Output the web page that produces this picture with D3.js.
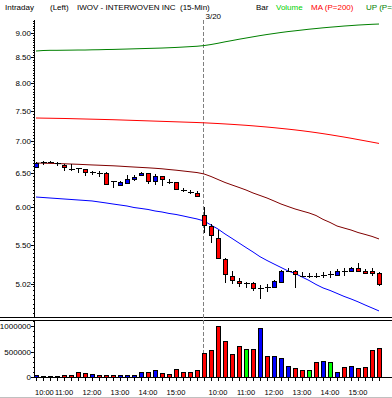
<!DOCTYPE html>
<html><head><meta charset="utf-8">
<script src="https://cdn.jsdelivr.net/npm/d3@7"></script>
<style>
html,body{margin:0;padding:0;background:#fff;overflow:hidden;}
svg{display:block;font-family:"Liberation Sans",Arial,sans-serif;}
</style></head><body>
<svg id="c" width="392" height="398"></svg>
<script>
// ---------- data ----------
const times = ["10:00","10:15","10:30","10:45","11:00","11:15","11:30","11:45","12:00","12:15","12:30","12:45",
  "13:00","13:15","13:30","13:45","14:00","14:15","14:30","14:45","15:00","15:15","15:30","15:45",
  "09:30","09:45","10:00","10:15","10:30","10:45","11:00","11:15","11:30","11:45","12:00","12:15","12:30","12:45",
  "13:00","13:15","13:30","13:45","14:00","14:15","14:30","14:45","15:00","15:15","15:30","15:45"];
const open  = [6.59,6.66,6.67,6.65,6.62,6.565,6.58,6.565,6.51,6.503,6.503,6.384,6.325,6.354,6.409,6.465,6.494,6.375,6.454,6.365,6.36,6.248,6.224,6.20,
  5.896,5.747,5.586,5.32,5.118,5.06,5.04,5.032,4.982,4.987,4.987,5.05,5.18,5.182,5.122,5.122,5.122,5.126,5.138,5.13,5.178,5.178,5.218,5.178,5.178,5.15];
const high  = [6.66,6.687,6.68,6.67,6.636,6.636,6.58,6.565,6.534,6.534,6.519,6.384,6.384,6.469,6.469,6.514,6.503,6.484,6.454,6.404,6.369,6.277,6.248,6.234,
  6.0,5.77,5.694,5.332,5.182,5.091,5.05,5.05,5.012,5.02,5.071,5.19,5.218,5.194,5.162,5.154,5.154,5.17,5.178,5.198,5.21,5.23,5.27,5.202,5.218,5.17];
const low   = [6.58,6.621,6.66,6.606,6.53,6.534,6.503,6.454,6.474,6.444,6.317,6.282,6.317,6.335,6.384,6.454,6.335,6.321,6.311,6.335,6.248,6.215,6.186,6.143,
  5.651,5.521,5.32,5.032,5.02,4.985,4.975,4.947,4.848,4.935,4.975,5.044,5.16,4.982,5.106,5.097,5.097,5.097,5.09,5.118,5.118,5.17,5.162,5.138,5.122,5.004];
const close = [6.647,6.66,6.67,6.65,6.586,6.565,6.58,6.51,6.51,6.503,6.335,6.384,6.369,6.404,6.444,6.499,6.379,6.454,6.409,6.365,6.258,6.248,6.224,6.162,
  5.76,5.629,5.332,5.142,5.071,5.032,5.04,4.975,4.982,4.987,5.06,5.178,5.18,5.138,5.122,5.122,5.122,5.126,5.138,5.178,5.178,5.218,5.178,5.154,5.154,5.02];
const volume = [46000,20000,20000,20000,33000,33000,92000,72000,53000,33000,46000,46000,46000,33000,33000,92000,92000,132000,72000,53000,151000,92000,105000,132000,
  480000,526000,1000000,704000,447000,605000,546000,546000,974000,408000,408000,382000,211000,171000,132000,132000,289000,309000,289000,92000,191000,211000,171000,191000,526000,566000];
const volDir = ["u","d","d","d","d","d","d","d","u","d","d","d","u","u","u","u","d","u","d","d","d","d","d","d",
  "d","d","d","d","d","d","n","d","u","d","u","u","u","d","d","n","d","u","n","u","d","u","d","d","d","d"];
const upBand = [8.626,8.636,8.640,8.640,8.642,8.644,8.646,8.646,8.650,8.652,8.656,8.658,8.662,8.666,8.670,8.674,8.678,8.682,8.686,8.692,8.698,8.706,8.714,8.722,
  8.736,8.757,8.783,8.812,8.838,8.865,8.890,8.915,8.940,8.963,8.984,9.005,9.024,9.040,9.057,9.074,9.088,9.103,9.116,9.128,9.141,9.151,9.162,9.170,9.178,9.184];
const ma200 = [7.384,7.382,7.380,7.378,7.376,7.373,7.370,7.367,7.364,7.361,7.358,7.355,7.351,7.347,7.343,7.339,7.335,7.331,7.327,7.323,7.319,7.315,7.311,7.307,
  7.302,7.296,7.290,7.283,7.276,7.268,7.260,7.251,7.241,7.231,7.220,7.208,7.196,7.183,7.169,7.154,7.138,7.121,7.103,7.084,7.065,7.045,7.024,7.003,6.982,6.961];
const midLine = [6.652,6.649,6.646,6.643,6.640,6.636,6.632,6.627,6.622,6.618,6.613,6.609,6.603,6.596,6.590,6.584,6.578,6.571,6.563,6.552,6.542,6.530,6.518,6.506,
  6.485,6.447,6.402,6.358,6.321,6.285,6.248,6.205,6.169,6.133,6.091,6.048,6.013,5.979,5.951,5.924,5.889,5.836,5.795,5.747,5.720,5.694,5.661,5.636,5.610,5.577];
const lowBand = [6.147,6.140,6.133,6.126,6.119,6.112,6.105,6.098,6.091,6.077,6.063,6.048,6.034,6.020,5.999,5.986,5.972,5.951,5.937,5.917,5.903,5.883,5.862,5.842,
  5.815,5.760,5.707,5.642,5.584,5.525,5.467,5.411,5.352,5.305,5.262,5.220,5.178,5.148,5.106,5.065,5.018,4.978,4.949,4.915,4.881,4.852,4.820,4.785,4.752,4.719];
const priceTicks = [9.00,8.50,8.00,7.50,7.00,6.50,6.00,5.50];
const lastPrice = 5.02;
const volTicks = [0,500000,1000000];
const hourIdx = [0,4,8,12,16,20,26,30,34,38,42,46];
const dayBreak = 24;
const dayLabel = "3/20";

// ---------- layout ----------
const svg = d3.select("#c");
const axisX = 34.5;
const priceTop = 20, priceBot = 317;
const volTop = 320, volBot = 377;

const x = d3.scalePoint().domain(d3.range(times.length)).range([36, 379]);
const y = d3.scaleLog().domain([4.653, 9.27]).range([priceBot, priceTop]);
const yv = d3.scaleLinear().domain([0, 1124000]).range([volBot, volTop]);

const colDir = {u:"#0000ff", d:"#ff0000", n:"#00ff00"};

svg.append("defs").append("clipPath").attr("id","pc")
  .append("rect").attr("x",35).attr("y",priceTop).attr("width",392-35).attr("height",priceBot-priceTop);

// header
const hdr = [
  {t:"Intraday", x:5, c:"#000"},
  {t:"(Left)", x:50, c:"#000"},
  {t:"IWOV - INTERWOVEN INC  (15-Min)", x:77, c:"#000"},
  {t:"Bar", x:256, c:"#000"},
  {t:"Volume", x:276, c:"#00d000"},
  {t:"MA (P=200)", x:311, c:"#ff0000"},
  {t:"UP (P=200)", x:366, c:"#008000"}
];
svg.selectAll("text.h").data(hdr).join("text").attr("class","h")
  .attr("x",d=>d.x).attr("y",9.5).attr("font-size",8).attr("fill",d=>d.c)
  .style("white-space","pre").text(d=>d.t);

// panel separators
svg.append("line").attr("x1",0).attr("x2",392).attr("y1",priceBot+0.5).attr("y2",priceBot+0.5).attr("stroke","#000");
svg.append("line").attr("x1",0).attr("x2",392).attr("y1",volTop+0.5).attr("y2",volTop+0.5).attr("stroke","#000");
svg.append("line").attr("x1",0).attr("x2",392).attr("y1",397.5).attr("y2",397.5).attr("stroke","#c0c0c0");

// day break dashed line
const xb = Math.round(x(dayBreak)) - 0.5;
svg.append("line").attr("x1",xb).attr("x2",xb).attr("y1",priceTop).attr("y2",volBot)
  .attr("stroke","#808080").attr("stroke-dasharray","4,2");
svg.append("text").attr("x",xb+2).attr("y",18.5).attr("font-size",8).text(dayLabel);

// price y axis
const gA = svg.append("g").attr("shape-rendering","crispEdges");
gA.append("line").attr("x1",axisX).attr("x2",axisX).attr("y1",priceTop).attr("y2",priceBot).attr("stroke","#000");
const minor = d3.range(4.70, 9.26, 0.05);
gA.selectAll("line.mn").data(minor).join("line").attr("class","mn")
  .attr("x1",axisX-2).attr("x2",axisX).attr("y1",d=>Math.round(y(d))+0.5).attr("y2",d=>Math.round(y(d))+0.5).attr("stroke","#000");
const allTicks = priceTicks.concat([lastPrice]);
gA.selectAll("line.mj").data(allTicks).join("line").attr("class","mj")
  .attr("x1",axisX-4).attr("x2",axisX).attr("y1",d=>Math.round(y(d))+0.5).attr("y2",d=>Math.round(y(d))+0.5).attr("stroke","#000");
svg.selectAll("text.yl").data(allTicks).join("text").attr("class","yl")
  .attr("x",31).attr("y",d=>y(d)+3).attr("text-anchor","end").attr("font-size",8).text(d=>d.toFixed(2));

// volume y axis
gA.append("line").attr("x1",axisX).attr("x2",axisX).attr("y1",volTop).attr("y2",volBot).attr("stroke","#000");
gA.selectAll("line.vm").data(d3.range(0,1124000,100000)).join("line").attr("class","vm")
  .attr("x1",axisX-2).attr("x2",axisX).attr("y1",d=>Math.round(yv(d))+0.5).attr("y2",d=>Math.round(yv(d))+0.5).attr("stroke","#000");
gA.selectAll("line.vj").data(volTicks).join("line").attr("class","vj")
  .attr("x1",axisX-4).attr("x2",axisX).attr("y1",d=>Math.round(yv(d))+0.5).attr("y2",d=>Math.round(yv(d))+0.5).attr("stroke","#000");
svg.selectAll("text.vl").data(volTicks).join("text").attr("class","vl")
  .attr("x",31).attr("y",d=>yv(d)+3).attr("text-anchor","end").attr("font-size",8).text(d=>d);

// x axis
gA.append("line").attr("x1",axisX).attr("x2",392).attr("y1",volBot+0.5).attr("y2",volBot+0.5).attr("stroke","#000");
gA.selectAll("line.xt").data(d3.range(times.length)).join("line").attr("class","xt")
  .attr("x1",i=>Math.round(x(i))+0.5).attr("x2",i=>Math.round(x(i))+0.5).attr("y1",volBot).attr("y2",volBot+4).attr("stroke","#000");
svg.selectAll("text.xl").data(hourIdx).join("text").attr("class","xl")
  .attr("x",i=>i===0 ? 35 : x(i)).attr("y",395)
  .attr("text-anchor",i=>i===0 ? "start" : "middle").attr("font-size",7.5).text(i=>times[i]);

// lines
const plot = svg.append("g").attr("clip-path","url(#pc)");
const mk = arr => d3.line().x((d,i)=>x(i)).y(d=>y(d))(arr);
[[upBand,"#008000"],[ma200,"#ff0000"],[midLine,"#800000"],[lowBand,"#0000ff"]].forEach(([arr,c])=>{
  plot.append("path").attr("d",mk(arr)).attr("fill","none").attr("stroke",c).attr("stroke-width",1);
});

// candles
const idx = d3.range(times.length);
const cg = plot.append("g").attr("shape-rendering","crispEdges");
cg.selectAll("line.w").data(idx).join("line").attr("class","w")
  .attr("x1",i=>Math.round(x(i))+0.5).attr("x2",i=>Math.round(x(i))+0.5)
  .attr("y1",i=>y(high[i])).attr("y2",i=>y(low[i])).attr("stroke","#000");
cg.selectAll("rect.b").data(idx.filter(i=>open[i]!==close[i])).join("rect").attr("class","b")
  .attr("x",i=>Math.round(x(i))-1.5).attr("width",4)
  .attr("y",i=>Math.round(y(Math.max(open[i],close[i])))+0.5)
  .attr("height",i=>Math.max(1,Math.round(y(Math.min(open[i],close[i])))-Math.round(y(Math.max(open[i],close[i])))))
  .attr("fill",i=>close[i]>open[i]?"#0000ff":"#ff0000").attr("stroke","#000");
cg.selectAll("line.dj").data(idx.filter(i=>open[i]===close[i])).join("line").attr("class","dj")
  .attr("x1",i=>Math.round(x(i))-2.5).attr("x2",i=>Math.round(x(i))+3.5)
  .attr("y1",i=>Math.round(y(open[i]))+0.5).attr("y2",i=>Math.round(y(open[i]))+0.5).attr("stroke","#000");

// volume bars
svg.append("g").attr("shape-rendering","crispEdges").selectAll("rect").data(idx).join("rect")
  .attr("x",i=>Math.round(x(i))-1.5).attr("width",4)
  .attr("y",i=>Math.round(yv(volume[i]))+0.5)
  .attr("height",i=>Math.max(0,volBot-Math.round(yv(volume[i]))))
  .attr("fill",i=>colDir[volDir[i]]).attr("stroke","#000");
</script></body></html>
